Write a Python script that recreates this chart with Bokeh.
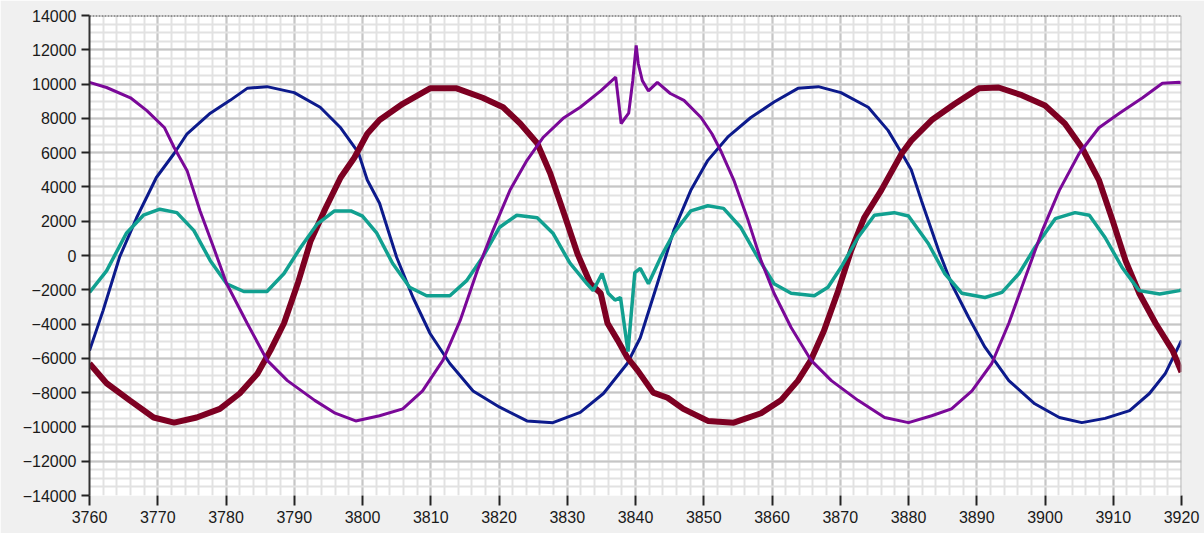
from bokeh.plotting import figure
from bokeh.models import FixedTicker, Range1d, Span
from bokeh.embed import file_html
from bokeh.resources import INLINE

# ---- data ----
x_ticks = list(range(3760, 3921, 10))
y_ticks = list(range(-14000, 14001, 2000))

purple_x = [3760, 3762.5, 3766, 3768.4, 3771, 3772.4, 3774.3, 3776.2, 3778.2, 3780.1, 3783.1, 3786,
            3789, 3793, 3796, 3799, 3802.5, 3805.9, 3808.8, 3811.8, 3814.3, 3816.8, 3819.1, 3821.6,
            3824.1, 3826.5, 3829.4, 3831.9, 3834.9, 3837.1, 3837.9, 3839, 3839.6, 3840.1, 3840.4,
            3841, 3841.9, 3843.2, 3845.1, 3847.1, 3849.6, 3851.2, 3852.5, 3854.4, 3856.5, 3858.4,
            3860.3, 3862.8, 3865.7, 3868.7, 3872.6, 3876.5, 3880, 3883.4, 3886.3, 3889.3, 3892.2,
            3894.7, 3897.1, 3899.6, 3902.1, 3905, 3907.9, 3910.9, 3914.3, 3917.2, 3919.7, 3920]
purple_y = [10100, 9800, 9200, 8450, 7450, 6300, 4950, 2600, 450, -1650, -3950, -6100,
            -7300, -8450, -9200, -9650, -9350, -8950, -7900, -6100, -3800, -900, 1450, 3800,
            5550, 6900, 8000, 8650, 9600, 10400, 7700, 8300, 10200, 12250, 11200,
            10200, 9600, 10100, 9450, 9050, 8050, 7100, 6100, 4400, 2050, -300,
            -2200, -4200, -6100, -7300, -8450, -9450, -9750, -9350, -8950, -7900, -6300,
            -3950, -1300, 1450, 3800, 5950, 7450, 8300, 9200, 10050, 10100, 10050]

blue_x = [3760, 3762, 3764.4, 3766.9, 3769.8, 3772.4, 3774.3, 3777.7, 3780.6, 3783.1, 3786, 3790,
          3793.8, 3796.8, 3799.4, 3800.7, 3802.5, 3805, 3807.4, 3809.9, 3812.8, 3816.2, 3820.1,
          3824.1, 3827.9, 3831.9, 3835.3, 3838.8, 3840.7, 3843.2, 3845.6, 3848.1, 3850.6, 3853.5,
          3856.9, 3860.3, 3863.8, 3866.8, 3870.1, 3874.1, 3877, 3879.4, 3880.4, 3881.9, 3884.4,
          3886.3, 3888.8, 3891.2, 3894.7, 3898.5, 3902.1, 3905.4, 3908.8, 3912.4, 3915.3, 3917.6, 3920]
blue_y = [-5550, -3200, -100, 2200, 4550, 5950, 7100, 8300, 9050, 9750, 9850, 9500,
          8650, 7450, 6000, 4400, 3050, -100, -2450, -4550, -6300, -7900, -8850,
          -9650, -9750, -9150, -8050, -6300, -4800, -1650, 1450, 3800, 5550, 6900,
          8050, 8950, 9750, 9850, 9500, 8650, 7300, 5700, 5000, 3200, 300,
          -1650, -3600, -5350, -7300, -8650, -9450, -9750, -9500, -9050, -8050, -6900, -4950]

red_x = [3760, 3762.5, 3765.9, 3769.4, 3772.4, 3775.7, 3779.1, 3782, 3784.6, 3786.5, 3788.5, 3790.5,
         3792.4, 3794.4, 3796.8, 3798.8, 3800.7, 3802.5, 3805.9, 3809.9, 3813.8, 3817.6, 3820.6,
         3823.1, 3825.6, 3827.5, 3829.4, 3831.5, 3833.4, 3834.9, 3835.9, 3837.4, 3838.8, 3840.3,
         3842.6, 3844.7, 3847, 3850.6, 3854.4, 3858.4, 3861.3, 3863.8, 3865.7, 3867.6, 3869.7,
         3871.6, 3873.5, 3876, 3879, 3880.4, 3883.4, 3886.8, 3890.3, 3893.2, 3896.6, 3900, 3902.9,
         3905.4, 3907.9, 3909.9, 3911.8, 3913.8, 3916.2, 3918.7, 3920]
red_y = [-6300, -7450, -8450, -9450, -9750, -9450, -8950, -8050, -6900, -5550, -3950, -1650,
         850, 2600, 4550, 5700, 7100, 7900, 8850, 9750, 9750, 9200, 8650,
         7700, 6550, 4800, 2600, 100, -1650, -2200, -3950, -4950, -5950, -6700,
         -8000, -8300, -8950, -9650, -9750, -9200, -8450, -7300, -6100, -4400, -2050,
         300, 2200, 3800, 5950, 6700, 7900, 8850, 9750, 9800, 9350, 8750, 7700,
         6300, 4400, 2050, -300, -2200, -3950, -5550, -6800]

teal_x = [3760, 3762.5, 3765.4, 3767.9, 3770.3, 3772.8, 3775.3, 3777.7, 3780.1, 3782.6, 3786, 3788.5,
          3790.9, 3793.4, 3795.9, 3798.3, 3800, 3802.1, 3804.4, 3806.9, 3809.4, 3812.8, 3815.3,
          3817.6, 3820.1, 3822.6, 3825.6, 3827.9, 3830.4, 3832.9, 3833.8, 3835.1, 3836, 3837,
          3837.8, 3838.9, 3839.9, 3840.7, 3841.9, 3843.7, 3845.6, 3848.1, 3850.6, 3852.9, 3855.4,
          3857.9, 3860.3, 3862.8, 3866.2, 3868.2, 3870.1, 3872.6, 3875, 3877.9, 3880, 3882.9,
          3885.3, 3887.8, 3891.2, 3893.7, 3896.2, 3898.5, 3901.5, 3904.4, 3906.5, 3908.8, 3911.3,
          3913.8, 3916.8, 3919.7, 3920]
teal_y = [-2150, -900, 1300, 2350, 2700, 2500, 1450, -300, -1650, -2100, -2100, -1050,
          450, 1850, 2600, 2600, 2300, 1300, -450, -1850, -2350, -2350, -1450,
          -100, 1650, 2350, 2200, 1300, -450, -1650, -2050, -1050, -2200, -2600,
          -2450, -5600, -1000, -750, -1650, -100, 1300, 2600, 2900, 2750, 1650,
          -100, -1650, -2200, -2350, -1850, -700, 1050, 2350, 2500, 2300, 700,
          -1050, -2200, -2450, -2150, -1050, 450, 2150, 2500, 2350, 1050, -700,
          -2050, -2250, -2050, -2000]

# ---- figure ----
p = figure(width=1204, height=533, output_backend="svg", toolbar_location=None,
           x_range=Range1d(3760, 3920), y_range=Range1d(-14000, 14000),
           min_border_left=89, min_border_right=23, min_border_top=15, min_border_bottom=38)
p.background_fill_color = "white"
p.border_fill_color = "#f0f0f0"
p.outline_line_color = None

p.xaxis.ticker = FixedTicker(ticks=x_ticks, minor_ticks=list(range(3760, 3921, 2)))
p.yaxis.ticker = FixedTicker(ticks=y_ticks, minor_ticks=list(range(-14000, 14001, 500)))

for ax in (p.xaxis[0], p.yaxis[0]):
    ax.major_label_text_font = "Liberation Sans"
    ax.major_label_text_font_size = "16px"
    ax.major_label_text_color = "#1a1a1a"
    ax.major_tick_line_color = "#222222"
    ax.major_tick_line_width = 2
    ax.major_tick_in = 0
    ax.minor_tick_line_color = None

p.xaxis.axis_line_color = None
p.xaxis.major_tick_out = 10
p.xaxis.major_label_standoff = 5
p.yaxis.axis_line_color = "#333333"
p.yaxis.axis_line_width = 2
p.yaxis.major_tick_out = 8
p.yaxis.major_label_standoff = 5

p.xgrid.grid_line_color = "#c6c6c6"
p.xgrid.grid_line_width = 2
p.ygrid.grid_line_color = "#c6c6c6"
p.ygrid.grid_line_width = 2
p.xgrid.minor_grid_line_color = "#e2e2e2"
p.xgrid.minor_grid_line_width = 2
p.ygrid.minor_grid_line_color = "#e2e2e2"
p.ygrid.minor_grid_line_width = 2

p.add_layout(Span(location=14000, dimension="width", line_color="#333333",
                  line_width=2, line_dash="2 1"))
p.add_layout(Span(location=3920, dimension="height", line_color="#b0b0b0", line_width=2))

p.line(blue_x, blue_y, line_color="#0c1a8c", line_width=3)
p.line(red_x, red_y, line_color="#7d0022", line_width=6)
p.line(teal_x, teal_y, line_color="#11a090", line_width=3.5)
p.line(purple_x, purple_y, line_color="#7a0898", line_width=3)

open("out.html", "w").write(file_html(p, INLINE))
